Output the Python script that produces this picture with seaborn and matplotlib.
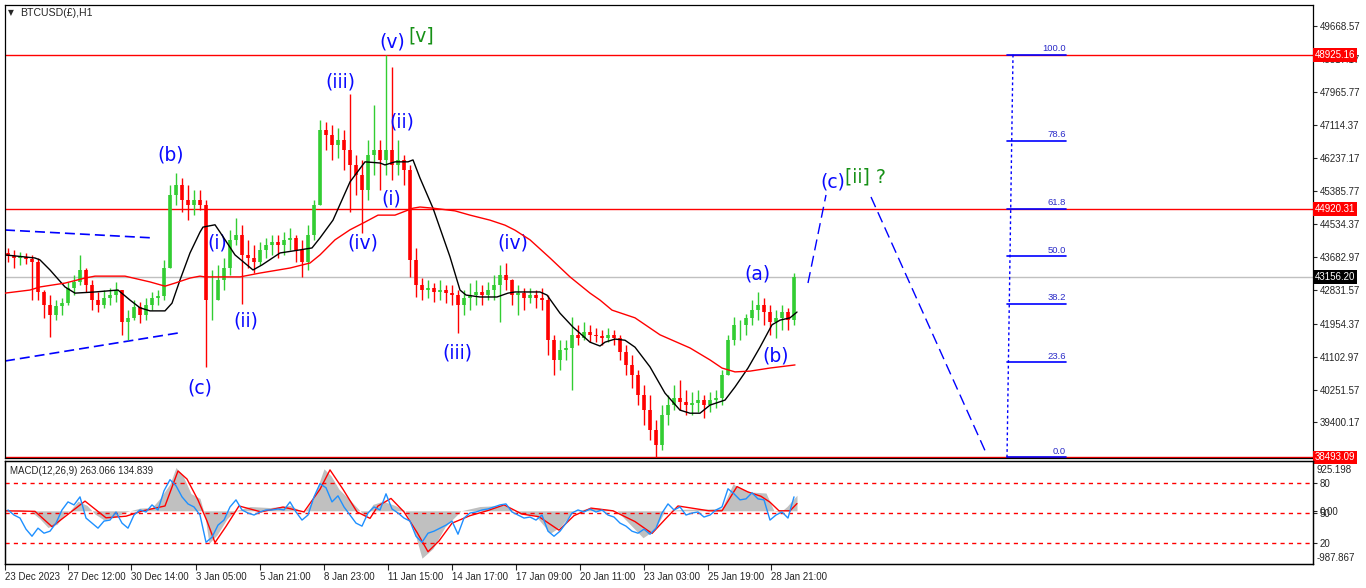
import numpy as np
import matplotlib
matplotlib.use("Agg")
import matplotlib.pyplot as plt
import matplotlib.transforms as mtransforms
import seaborn as sns

# --- BTCUSD H1, squeezed into 6-hour candles (bar units = chart pixels) ---
first_open = 43800
highs = [43920, 43870, 43820, 43790, 43740, 43660, 42830, 42700, 42570, 42620,
         43040, 43220, 43740, 43400, 43090, 42780, 42830, 42880, 43040, 42830,
         42310, 42570, 42520, 42620, 42780, 42830, 43610, 45550, 45860, 45730,
         45550, 45420, 45420, 45160, 43350, 43480, 43660, 44390, 44700, 44520,
         44130, 44000, 44070, 44180, 44260, 44260, 44330, 44440, 44260, 44130,
         44520, 45160, 47230, 47180, 47110, 47030, 46980, 47910, 46330, 46200,
         46720, 47620, 46720, 48925, 48610, 46720, 46330, 46070, 43920, 43140,
         43090, 43010, 43090, 42960, 42960, 42830, 42830, 43010, 43090, 42960,
         43040, 43220, 43480, 43530, 43120, 42960, 42880, 42880, 42830, 42880,
         42700, 41670, 41540, 41540, 42130, 41930, 42000, 41930, 41850, 41800,
         41850, 41800, 41670, 41410, 41150, 40760, 40370, 40110, 39460, 39850,
         40110, 40370, 40500, 40240, 40190, 40240, 40110, 40190, 40240, 40760,
         41670, 42130, 42050, 42210, 42570, 42780, 42620, 42440, 42310, 42440,
         42370, 43270]
lows = [43560, 43400, 43480, 43500, 42570, 42570, 42110, 41610, 42050, 42180,
        42440, 42700, 42960, 42780, 42310, 42260, 42370, 42440, 42520, 41670,
        41540, 42050, 41980, 42050, 42310, 42440, 42570, 43400, 45030, 44850,
        44640, 44770, 44900, 40840, 42050, 42570, 42830, 43220, 44000, 42470,
        43400, 43270, 43480, 43660, 43740, 43660, 43740, 43870, 43560, 43170,
        43350, 44130, 45030, 46460, 46200, 46250, 45940, 44850, 45290, 44310,
        45160, 45810, 45420, 45810, 45680, 45810, 45550, 43170, 42650, 42570,
        42620, 42520, 42570, 42490, 42440, 41720, 42180, 42310, 42440, 42440,
        42570, 42570, 42000, 42830, 42440, 42180, 42310, 42490, 42360, 42310,
        41150, 40630, 40760, 41020, 40240, 41410, 41540, 41480, 41480, 41410,
        41480, 41410, 41020, 40630, 40290, 39850, 39340, 38950, 38493, 38690,
        39340, 39720, 39720, 39590, 39590, 39670, 39520, 39670, 39780, 39850,
        40630, 41410, 41540, 41670, 41930, 42050, 41930, 41670, 41590, 41800,
        41800, 41930]
closes = [43710, 43660, 43690, 43630, 43560, 42780, 42440, 42180, 42420, 42490,
          42880, 43040, 43350, 42960, 42570, 42440, 42620, 42700, 42830, 42000,
          42110, 42390, 42180, 42440, 42620, 42680, 43400, 45290, 45550, 45160,
          45030, 45160, 45030, 42570, 42570, 43090, 43400, 44130, 44260, 43740,
          43660, 43560, 43870, 44000, 44070, 44000, 44130, 44180, 43870, 43560,
          44260, 45030, 46980, 46850, 46590, 46720, 46460, 46070, 45810, 45420,
          46330, 46460, 46200, 46460, 46070, 46200, 45940, 43610, 42960, 42830,
          42880, 42780, 42830, 42750, 42700, 42440, 42620, 42700, 42780, 42700,
          42830, 42960, 43220, 43090, 42700, 42750, 42620, 42700, 42620, 42570,
          41540, 41020, 41280, 41330, 41670, 41590, 41740, 41670, 41640, 41590,
          41670, 41590, 41230, 40890, 40630, 40110, 39720, 39210, 38820, 39590,
          39850, 40030, 39930, 39850, 39900, 39980, 39850, 39980, 40030, 40630,
          41540, 41930, 41930, 42110, 42310, 42440, 42260, 42000, 42110, 42260,
          42050, 43156.20]

# moving averages (bar, price)
ma_fast_x = [0, 30, 35, 45, 60, 70, 90, 113, 125, 135, 145, 160, 167, 175, 185, 195, 198, 210,
             215, 230, 248, 257, 275, 295, 307, 315, 328, 345, 360, 375, 380, 390, 403, 408,
             415, 428, 445, 455, 461, 475, 492, 503, 510, 535, 542, 555, 568, 585, 595, 600,
             610, 620, 630, 645, 660, 675, 685, 695, 705, 720, 730, 743, 755, 767, 775, 785, 792]
ma_fast = [43740, 43660, 43610, 43350, 42910, 42750, 42780, 42830, 42570, 42370, 42290, 42290,
           42490, 43090, 43790, 44330, 44460, 44520, 44330, 43740, 43350, 43480, 43790, 43870,
           43920, 44180, 44640, 45630, 46150, 46120, 46070, 46150, 46150, 46200, 45730, 44950,
           43690, 42830, 42700, 42650, 42650, 42750, 42780, 42780, 42700, 42230, 41870, 41480,
           41380, 41480, 41560, 41530, 41350, 40840, 40160, 39720, 39640, 39640, 39850, 39980,
           40320, 40810, 41350, 41930, 42050, 42110, 42260]
ma_slow_x = [0, 25, 35, 60, 80, 90, 120, 145, 160, 170, 185, 195, 200, 235, 255, 285, 305, 315,
             330, 345, 360, 373, 390, 398, 408, 415, 428, 450, 465, 485, 500, 510, 525, 545,
             565, 585, 595, 607, 630, 655, 685, 705, 717, 730, 745, 765, 790]
ma_slow = [42750, 42830, 42910, 43010, 43140, 43190, 43190, 43040, 42930, 43010, 43140, 43190,
           43170, 43170, 43270, 43400, 43530, 43740, 44130, 44390, 44590, 44770, 44770, 44850,
           44950, 44980, 44950, 44880, 44770, 44640, 44510, 44380, 44130, 43660, 43170, 42750,
           42570, 42310, 42110, 41670, 41330, 41020, 40810, 40710, 40730, 40810, 40890]

# drawn objects
chan_up_x, chan_up_y = [0, 148], [44385, 44180]
chan_lo_x, chan_lo_y = [0, 173], [40992, 41717]
proj1_x, proj1_y = [803, 821], [43012, 45292]
proj2_x, proj2_y = [866, 982], [45240, 38557]
fib_low, fib_high = 38493.09, 48925.16
fib_ratios = [0.0, 23.6, 38.2, 50.0, 61.8, 78.6, 100.0]
red_levels = [48925.16, 44920.31, 38493.09]
bid = 43156.20

wave_labels = [("(b)", 166, 46328), ("(c)", 195, 40293), ("(i)", 212, 44048),
               ("(ii)", 241, 42028), ("(iii)", 335, 48218), ("(iv)", 358, 44048),
               ("(v)", 387, 49254), ("(ii)", 397, 47182), ("(i)", 386, 45188),
               ("(iv)", 508, 44048), ("(iii)", 452, 41199), ("(a)", 752, 43245),
               ("(b)", 771, 41122), ("(c)", 828, 45628)]
green_labels = [("[v]", 403, 49410), ("[ii] ?", 840, 45758)]

price_ticks = [49668.57, 48817.17, 47965.77, 47114.37, 46237.17, 45385.77, 44534.37,
               43682.97, 42831.57, 41954.37, 41102.97, 40251.57, 39400.17]

# --- MACD panel ---
hist_x = [0, 15, 25, 35, 43, 52, 60, 65, 73, 82, 90, 99, 110, 121, 135, 147, 155, 165, 171, 178,
          186, 195, 200, 204, 212, 222, 230, 245, 265, 285, 299, 308, 319, 326, 334, 345, 352,
          360, 368, 378, 390, 400, 408, 417, 428, 440, 456, 475, 499, 515, 530, 540, 545, 555,
          569, 590, 612, 625, 638, 650, 660, 680, 700, 717, 728, 735, 745, 761, 769, 775, 782, 792]
hist_v = [0, 20, 0, -150, -310, -250, -60, 0, 180, 100, -60, -170, -120, -20, 50, 60, 230, 500,
          805, 650, 320, 230, -100, -605, -450, -150, 0, 80, 60, 100, -30, 200, 780, 650, 400,
          200, 60, -100, 120, 180, 100, 0, -300, -880, -700, -300, 0, 80, 100, -60, -80, -300,
          -420, -300, 0, 60, 0, -250, -500, -350, 0, 30, 30, 50, 500, 420, 350, 330, 0, -30, 80, 290]
sig_x = [0, 30, 47, 80, 101, 121, 138, 160, 173, 182, 193, 202, 210, 221, 234, 256, 278, 299,
         315, 325, 338, 352, 365, 373, 386, 399, 412, 423, 434, 447, 465, 482, 499, 517, 534,
         554, 569, 586, 608, 630, 647, 660, 673, 704, 717, 732, 743, 756, 765, 774, 785, 792]
sig_v = [0, -10, -295, 180, -130, -100, 0, 90, 740, 590, 200, -190, -590, -290, 90, -20, 70, -20,
         400, 760, 400, -20, -140, 90, 230, -20, -400, -760, -560, -230, -90, 0, 110, -60, -110,
         -360, -90, 50, 0, -200, -420, -160, 90, 0, 0, 450, 350, 270, 160, 0, 0, 135]
osc = [53, 48, 45, 34, 27, 35, 30, 32, 40, 53, 61, 58, 66, 45, 40, 35, 42, 43, 51, 40,
       35, 48, 53, 51, 58, 53, 72, 83, 77, 66, 59, 56, 48, 21, 26, 38, 43, 56, 63, 53,
       50, 48, 51, 53, 53, 54, 53, 61, 51, 43, 48, 66, 79, 75, 61, 67, 56, 48, 40, 37,
       50, 56, 53, 69, 54, 50, 45, 42, 27, 21, 30, 32, 35, 38, 42, 29, 45, 50, 51, 53,
       54, 56, 58, 59, 51, 48, 45, 46, 43, 48, 32, 27, 32, 40, 50, 53, 51, 54, 51, 53,
       48, 46, 40, 37, 32, 30, 34, 29, 35, 50, 59, 53, 56, 48, 50, 51, 46, 48, 53, 56,
       74, 69, 63, 64, 70, 64, 63, 43, 48, 51, 45, 66]
osc_levels = [20, 50, 80]
macd_min, macd_max = -987.867, 925.198

date_pos = [0, 63, 126, 191, 255, 319, 383, 447, 511, 575, 639, 703, 766]
date_labels = ["23 Dec 2023", "27 Dec 12:00", "30 Dec 14:00", "3 Jan 05:00", "5 Jan 21:00",
               "8 Jan 23:00", "11 Jan 15:00", "14 Jan 17:00", "17 Jan 09:00", "20 Jan 11:00",
               "23 Jan 03:00", "25 Jan 19:00", "28 Jan 21:00"]

sns.set_style("white")
plt.rcParams['font.family'] = ['Liberation Sans', 'DejaVu Sans']
SMALL = 7.0

W, H = 1366, 588
fig = plt.figure(figsize=(W / 100, H / 100), dpi=100)
ax = fig.add_axes([5 / W, 1 - 458 / H, 1308 / W, 453 / H])
axm = fig.add_axes([5 / W, 1 - 564 / H, 1308 / W, 103 / H])

#####################################
# price panel

n = len(closes)
bar_x = np.arange(n) * 6 + 3
opens = np.array([first_open] + closes[:-1])
cl = np.array(closes)
cols = np.where(cl >= opens, '#32cd32', '#ff0000')

for lv in red_levels:
    ax.axhline(lv, color='red', lw=1, zorder=1)
ax.axhline(bid, color='#c0c0c0', lw=1, zorder=1)

ax.vlines(bar_x, lows, highs, colors=cols, lw=1.0, zorder=3)
ax.vlines(bar_x, np.minimum(opens, cl), np.maximum(opens, cl), colors=cols, lw=2.6, zorder=3)

sns.lineplot(x=ma_fast_x, y=ma_fast, ax=ax, color='black', linewidth=1, zorder=4)
sns.lineplot(x=ma_slow_x, y=ma_slow, ax=ax, color='red', linewidth=1, zorder=4)

dash_long = (0, (6, 3))
ax.plot(chan_up_x, chan_up_y, color='blue', lw=1.2, ls=dash_long)
ax.plot(chan_lo_x, chan_lo_y, color='blue', lw=1.2, ls=dash_long)
ax.plot(proj1_x, proj1_y, color='blue', lw=1, ls=(0, (8, 4)))
ax.plot(proj2_x, proj2_y, color='blue', lw=1, ls=(0, (8, 4)))

# fibonacci retracement
ax.plot([1008, 1002], [fib_high, fib_low], color='blue', lw=1, ls=(0, (2, 2)))
for r in fib_ratios:
    lv = fib_low + r / 100 * (fib_high - fib_low)
    ax.plot([1002, 1061], [lv, lv], color='blue', lw=1.2)
    ax.annotate(f"{r:.1f}", (1061, lv), xytext=(0, 1), textcoords='offset points',
                ha='right', va='bottom', fontsize=6.8, color='#2a2ac8')

for txt, bx, py in wave_labels:
    ax.text(bx, py, txt, color='#0a0aff', fontsize=13.5, ha='center', va='center',
            family='DejaVu Sans')
for txt, bx, py in green_labels:
    ax.text(bx, py, txt, color='#169016', fontsize=13.5, ha='left', va='center',
            family='DejaVu Sans')

ax.set_xlim(0, 1308)
ax.set_ylim(38480, 50212)
ax.yaxis.tick_right()
ax.set_yticks(price_ticks)
ax.set_yticklabels([f"{t:.2f}" for t in price_ticks])
ax.tick_params(axis='y', labelsize=SMALL, length=3, width=0.8, pad=2, direction='out', right=True)
ax.set_xticks([])

trans = mtransforms.blended_transform_factory(ax.transAxes, ax.transData)
for lv in red_levels:
    ax.text(1.0015, lv, f"{lv:.2f}", transform=trans, color='white', fontsize=SMALL,
            ha='left', va='center', zorder=10,
            bbox=dict(facecolor='#ff0000', edgecolor='none', pad=1.4))
ax.text(1.0015, bid, f"{bid:.2f}", transform=trans, color='white', fontsize=SMALL,
        ha='left', va='center', zorder=10,
        bbox=dict(facecolor='black', edgecolor='none', pad=1.4))

for s in ax.spines.values():
    s.set_color('black')
    s.set_linewidth(0.9)

#####################################
# MACD panel

axm.fill_between(hist_x, hist_v, 0, color='#c0c0c0', lw=0)
sns.lineplot(x=sig_x, y=sig_v, ax=axm, color='red', linewidth=1, zorder=5)
axm.set_ylim(macd_min, macd_max)
axm.set_xlim(0, 1308)

axs = axm.twinx()
for lv in osc_levels:
    axs.axhline(lv, color='red', lw=1, ls=(0, (3, 3)))
sns.lineplot(x=bar_x, y=osc, ax=axs, color='#1e90ff', linewidth=1)
axs.set_ylim(-0.5, 101.5)
axs.set_yticks(osc_levels)
axs.set_yticklabels([str(v) for v in osc_levels])
axs.set_xlim(0, 1308)

axm.yaxis.tick_right()
axm.set_yticks([0])
axm.set_yticklabels(["0.00"])

for a in (axm, axs):
    a.tick_params(axis='y', labelsize=SMALL, length=3, width=0.8, pad=2, direction='out')
    a.set_ylabel("")
    for s in a.spines.values():
        s.set_color('black')
        s.set_linewidth(0.9)

axm.text(1.003, 0.96, f"{macd_max:.3f}", transform=axm.transAxes, fontsize=SMALL,
         ha='left', va='top')
axm.text(1.003, 0.01, f"{macd_min:.3f}", transform=axm.transAxes, fontsize=SMALL,
         ha='left', va='bottom')
axm.text(5 / 1308, 0.9, "MACD(12,26,9) 263.066 134.839", transform=axm.transAxes,
         fontsize=SMALL, ha='left', va='center')

axm.set_xticks(date_pos)
axm.set_xticklabels(date_labels, ha='left')
axm.tick_params(axis='x', labelsize=SMALL, length=4, width=0.8, pad=2, direction='out', bottom=True)

fig.text(20 / W, 1 - 13 / H, "BTCUSD(£),H1", fontsize=7.6, va='center', ha='left')
fig.text(8 / W, 1 - 13 / H, "▼", fontsize=5.5, va='center', ha='left', family='DejaVu Sans')

fig.savefig("out.png", dpi=100)
